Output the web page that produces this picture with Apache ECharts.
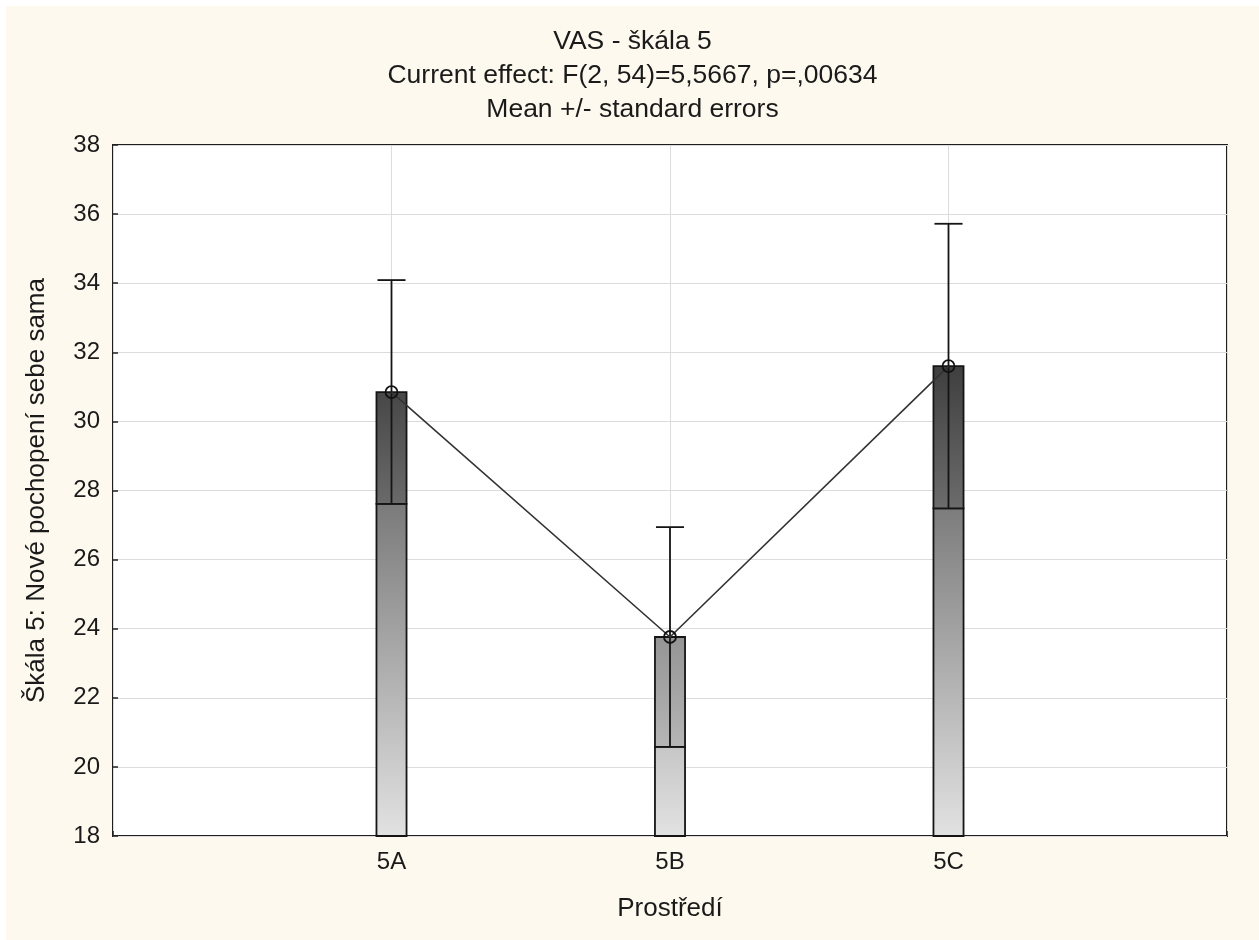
<!DOCTYPE html>
<html>
<head>
<meta charset="utf-8">
<script src="https://cdn.jsdelivr.net/npm/echarts@6/dist/echarts.min.js"></script>
<style>
  html, body { margin: 0; padding: 0; background: #ffffff; width: 1259px; height: 940px; overflow: hidden; }
  #chart { position: absolute; left: 6px; top: 6px; width: 1253px; height: 934px; }
</style>
</head>
<body>
<div id="chart"></div>
<script>
// ---- data ----
const categories = ['5A', '5B', '5C'];
const means = [30.85, 23.76, 31.60];
const stdErrors = [3.24, 3.18, 4.12];
const yMin = 18;
const yMax = 38;
const yStep = 2;
const titleLines = ['VAS - škála 5', 'Current effect: F(2, 54)=5,5667, p=,00634', 'Mean +/- standard errors'];
const xAxisName = 'Prostředí';
const yAxisName = 'Škála 5: Nové pochopení sebe sama';

// ---- helpers ----
function grayAt(v, darken) {
  let g = Math.round(226 - 10.8 * (v - yMin) - (darken || 0));
  g = Math.max(40, Math.min(235, g));
  return 'rgb(' + g + ',' + g + ',' + g + ')';
}
function grad(top, bottom) {
  return { type: 'linear', x: 0, y: 0, x2: 0, y2: 1, colorStops: [ { offset: 0, color: top }, { offset: 1, color: bottom } ] };
}

const customData = categories.map((c, i) => [i + 1, means[i], stdErrors[i]]);
const lineData = categories.map((c, i) => [i + 1, means[i]]);

const chart = echarts.init(document.getElementById('chart'));
const font = 'Liberation Sans, Arial, sans-serif';
const textColor = '#1a1a1a';
chart.setOption({
  backgroundColor: '#fef9ee',
  animation: false,
  title: {
    text: titleLines.join('\n'),
    left: 'center',
    top: 14,
    textStyle: { fontFamily: font, fontSize: 26.5, fontWeight: 'normal', color: textColor, lineHeight: 34 }
  },
  grid: {
    left: 107, right: 32, top: 139, bottom: 104,
    show: true, backgroundColor: '#ffffff', borderColor: '#1e1e1e', borderWidth: 2
  },
  xAxis: {
    type: 'value', min: 0, max: categories.length + 1, interval: 1,
    name: xAxisName, nameLocation: 'middle', nameGap: 60,
    nameTextStyle: { fontFamily: font, fontSize: 26, color: textColor },
    axisLine: { show: false },
    axisTick: { show: true, inside: true, length: 5, lineStyle: { color: '#222', width: 1.5 } },
    axisLabel: {
      fontFamily: font, fontSize: 24, color: textColor, margin: 14,
      formatter: v => (v >= 1 && v <= categories.length) ? categories[v - 1] : ''
    },
    splitLine: { show: true, lineStyle: { color: '#dcdcdc', width: 1 } }
  },
  yAxis: {
    type: 'value', min: yMin, max: yMax, interval: yStep,
    name: yAxisName, nameLocation: 'middle', nameGap: 63, nameRotate: 90,
    nameTextStyle: { fontFamily: font, fontSize: 26, color: textColor },
    axisLine: { show: false },
    axisTick: { show: true, inside: true, length: 5, lineStyle: { color: '#222', width: 1.5 } },
    axisLabel: { fontFamily: font, fontSize: 24, color: textColor, margin: 13 },
    splitLine: { show: true, lineStyle: { color: '#dcdcdc', width: 1 } }
  },
  series: [
    {
      type: 'custom',
      z: 2,
      data: customData,
      renderItem: function (params, api) {
        const x = api.value(0), m = api.value(1), se = api.value(2);
        const pBase = api.coord([x, yMin]);
        const pLow = api.coord([x, m - se]);
        const pMean = api.coord([x, m]);
        const pHigh = api.coord([x, m + se]);
        const w = api.size([1, 0])[0] * 0.108;
        const cx = pMean[0];
        const stroke = { stroke: '#151515', lineWidth: 1.8 };
        return {
          type: 'group',
          children: [
            { type: 'rect', shape: { x: cx - w / 2, y: pLow[1], width: w, height: pBase[1] - pLow[1] },
              style: Object.assign({ fill: grad(grayAt(m - se, 0), grayAt(yMin, 0)) }, stroke) },
            { type: 'rect', shape: { x: cx - w / 2, y: pMean[1], width: w, height: pLow[1] - pMean[1] },
              style: Object.assign({ fill: grad(grayAt(m, 16), grayAt(m - se, 16)) }, stroke) },
            { type: 'line', shape: { x1: cx, y1: pLow[1], x2: cx, y2: pHigh[1] }, style: { stroke: '#151515', lineWidth: 1.8 } },
            { type: 'line', shape: { x1: cx - w / 2 + 1, y1: pHigh[1], x2: cx + w / 2 - 1, y2: pHigh[1] }, style: { stroke: '#151515', lineWidth: 1.8 } }
          ]
        };
      }
    },
    {
      type: 'line',
      z: 3,
      data: lineData,
      symbol: 'circle',
      symbolSize: 12,
      lineStyle: { color: '#333', width: 1.6 },
      itemStyle: { color: 'rgba(0,0,0,0)', borderColor: '#111', borderWidth: 1.8 }
    }
  ]
});
</script>
</body>
</html>
